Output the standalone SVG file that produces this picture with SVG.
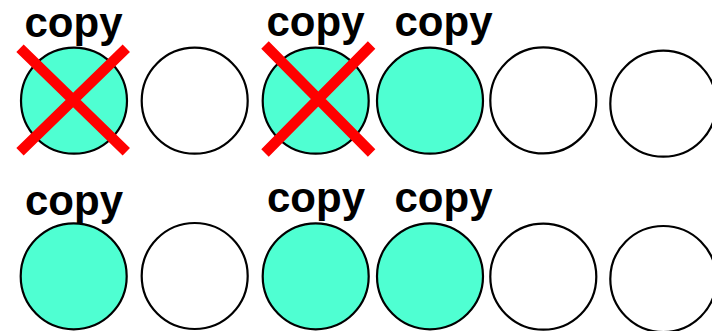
<svg xmlns="http://www.w3.org/2000/svg" width="712" height="331" viewBox="0 0 712 331">
<style>
.c{stroke:#000;stroke-width:2.2}
.on{fill:#4fffd2}
.off{fill:#fff}
.t{font-family:"Liberation Sans",Arial,sans-serif;font-weight:bold;font-size:42px;fill:#000;text-anchor:middle}
.x{stroke:#ff0000;stroke-width:10.5;fill:none}
</style>
<rect width="712" height="331" fill="#fff"/>
<g id="row1">
<g id="n1"><circle class="c on" cx="74" cy="100.7" r="53"/><text class="t" x="73.5" y="37">copy</text><path class="x" d="M20 48.3L126.3 151.7M126.3 48.3L20 151.7"/></g>
<g id="n2"><circle class="c off" cx="194.7" cy="100.7" r="53"/></g>
<g id="n3"><circle class="c on" cx="315.7" cy="100.7" r="53"/><text class="t" x="315.5" y="35.5">copy</text><path class="x" d="M265 45L371.6 153M371.6 45L265 153"/></g>
<g id="n4"><circle class="c on" cx="430" cy="100.7" r="53"/><text class="t" x="443.5" y="35.5">copy</text></g>
<g id="n5"><circle class="c off" cx="543.3" cy="100.4" r="53"/></g>
<g id="n6"><circle class="c off" cx="663.3" cy="103.7" r="53"/></g>
</g>
<g id="row2">
<g id="m1"><circle class="c on" cx="73.7" cy="276.3" r="53"/><text class="t" x="74" y="215">copy</text></g>
<g id="m2"><circle class="c off" cx="194.7" cy="276" r="53"/></g>
<g id="m3"><circle class="c on" cx="315.7" cy="276.3" r="53"/><text class="t" x="316" y="211.7">copy</text></g>
<g id="m4"><circle class="c on" cx="430" cy="276.3" r="53"/><text class="t" x="443.5" y="211.7">copy</text></g>
<g id="m5"><circle class="c off" cx="543.3" cy="276.7" r="53"/></g>
<g id="m6"><circle class="c off" cx="663.3" cy="279" r="53"/></g>
</g>
<g id="connectors"/>
</svg>
